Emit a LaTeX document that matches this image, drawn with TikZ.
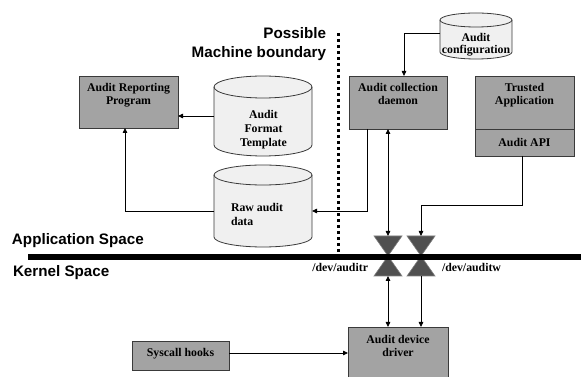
\documentclass[tikz,border=0pt]{standalone}
\usepackage{fontspec}
\setmainfont{Liberation Serif}
\newfontfamily\labelsans{Liberation Sans}
\usetikzlibrary{arrows.meta}

\definecolor{boxgray}{HTML}{A3A3A3}
\definecolor{boxedge}{HTML}{3A3A3A}
\definecolor{cylgray}{HTML}{F0F0F0}
\definecolor{valvegray}{HTML}{505050}
\definecolor{valveedge}{HTML}{808080}

\newcommand\boxfont{\bfseries\fontsize{11.8}{13.5}\selectfont}
\newcommand\bigfont{\labelsans\bfseries\fontsize{15.2}{19.5}\selectfont}

% outline of a data store around a named rectangular node
% #1 node name, #2 horizontal radius, #3 vertical radius of the end ellipses
\newcommand\storeoutline[3]{%
  \filldraw[fill=cylgray, draw=boxedge, line width=0.8pt]
    ([yshift=-#3pt]#1.north west) -- ([yshift=#3pt]#1.south west)
    arc[start angle=180, end angle=360, x radius=#2pt, y radius=#3pt]
    -- ([yshift=-#3pt]#1.north east)
    arc[start angle=0, end angle=180, x radius=#2pt, y radius=#3pt] -- cycle;
  \draw[draw=boxedge, line width=0.8pt] ([yshift=-#3pt]#1.north west)
    arc[start angle=180, end angle=360, x radius=#2pt, y radius=#3pt];
}

\begin{document}
\begin{tikzpicture}[x=1pt, y=1pt,
  every node/.style={inner sep=0pt, outer sep=0pt},
  procbox/.style={draw=boxedge, fill=boxgray, line width=0.8pt},
  boxtext/.style={font=\boxfont, align=center, anchor=north},
  storearea/.style={},
  link/.style={line width=0.8pt, draw=black},
  oneway/.style={-{Triangle[length=5pt, width=4.5pt]}},
  twoway/.style={{Triangle[length=5pt, width=4.5pt]}-{Triangle[length=5pt, width=4.5pt]}},
  valve/.style={fill=valvegray, draw=valveedge, line width=0.6pt},
  biglabel/.style={font=\bigfont},
  devlabel/.style={font=\boxfont}
]
\useasboundingbox (0,0) rectangle (581,377);
\clip (0,0) rectangle (581,377);

% ---------- data stores ----------
\node[storearea, minimum width=98pt, minimum height=80pt] (fmt) at (263,261) {};
\storeoutline{fmt}{49}{11}
\node[boxtext, font=\bfseries\fontsize{11.8}{14}\selectfont] (fmtT) at (263.5,267) {Audit\\Format\\Template};

\node[storearea, minimum width=98pt, minimum height=82pt] (raw) at (263,171) {};
\storeoutline{raw}{49}{10}
\node[boxtext, anchor=north west, align=left, font=\bfseries\fontsize{11.8}{14}\selectfont] (rawT) at (231,174) {Raw audit\\data};

\node[storearea, minimum width=72pt, minimum height=46pt] (cfg) at (476,341) {};
\storeoutline{cfg}{36}{7}
\node[boxtext, font=\bfseries\fontsize{11.8}{12}\selectfont] (cfgT) at (476,344) {Audit\\configuration};

% ---------- process boxes ----------
\node[procbox, minimum width=99pt, minimum height=52pt] (rep) at (128.5,275) {};
\node[boxtext] (repT) at ([yshift=-7pt]rep.north) {Audit Reporting\\Program};

\node[procbox, minimum width=98pt, minimum height=53pt] (dmn) at (398,274.5) {};
\node[boxtext] (dmnT) at ([yshift=-7pt]dmn.north) {Audit collection\\daemon};

\node[procbox, minimum width=99pt, minimum height=53pt] (trust) at (524.5,274.5) {};
\node[boxtext] (trustT) at ([yshift=-7pt]trust.north) {Trusted\\Application};
\node[procbox, minimum width=99pt, minimum height=27pt, font=\boxfont] (api) at (524.5,234.5) {Audit API};

\node[procbox, minimum width=97pt, minimum height=29pt] (sys) at (180.5,21.5) {};
\node[boxtext] (sysT) at ([yshift=-7pt]sys.north) {Syscall hooks};

\node[procbox, minimum width=100pt, minimum height=53pt] (drv) at (398,23.5) {};
\node[boxtext] (drvT) at ([yshift=-8pt]drv.north) {Audit device\\driver};

% ---------- device valves ----------
\coordinate (vrT) at (388,141);
\coordinate (vr)  at (388,121);
\coordinate (vrB) at (388,101);
\coordinate (vwT) at (421,141);
\coordinate (vw)  at (421,121);
\coordinate (vwB) at (421,101);
\filldraw[valve] ([xshift=-14pt]vrT) -- ([xshift=14pt]vrT) -- (vr) -- cycle;
\filldraw[valve] ([xshift=-14pt]vrB) -- ([xshift=14pt]vrB) -- (vr) -- cycle;
\filldraw[valve] ([xshift=-14pt]vwT) -- ([xshift=14pt]vwT) -- (vw) -- cycle;
\filldraw[valve] ([xshift=-14pt]vwB) -- ([xshift=14pt]vwB) -- (vw) -- cycle;

% ---------- user / kernel separator ----------
\coordinate (sepL) at (28,120);
\coordinate (sepR) at (581,120);
\draw[line width=6pt] (sepL) -- (sepR);

% ---------- machine boundary ----------
\coordinate (bndTop) at (338,344);
\coordinate (bndBot) at (338,124);
\draw[line width=3pt, dash pattern=on 3pt off 3pt] (bndTop) -- (bndBot);

% ---------- labels ----------
\node[biglabel, anchor=base west] (appsp) at (12,132) {Application Space};
\node[biglabel, anchor=base west] (kersp) at (13,100) {Kernel Space};
\node[biglabel, align=right, anchor=north east] (bound) at (326,350) {Possible\\Machine boundary};
\node[devlabel, anchor=base east] (devr) at (368,105) {/dev/auditr};
\node[devlabel, anchor=base west] (devw) at (442,105) {/dev/auditw};

% ---------- connectors ----------
\draw[link, oneway] (fmt.west) -- (fmt.west -| rep.east);
\draw[link, oneway] ([yshift=-5pt]raw.west) -| ([xshift=-3.5pt]rep.south);
\draw[link, oneway] ([xshift=-31pt]dmn.south) |- ([yshift=-5pt]raw.east);
\draw[link, twoway] ([xshift=-10pt]dmn.south) -- (vrT);
\draw[link, oneway] ([yshift=3pt]cfg.west) -| ([xshift=6pt]dmn.north);
\coordinate (apiTurn) at (421,172);
\draw[link, oneway] ([xshift=-2.5pt]api.south) |- (apiTurn) -- (vwT);
\draw[link, twoway] (vrB) -- (vrB |- drv.north);
\draw[link, oneway] (vwB) -- (vwB |- drv.north);
\draw[link, oneway] ([yshift=2.5pt]sys.east) -- ([yshift=2.5pt]sys.east -| drv.west);
\end{tikzpicture}
\end{document}
